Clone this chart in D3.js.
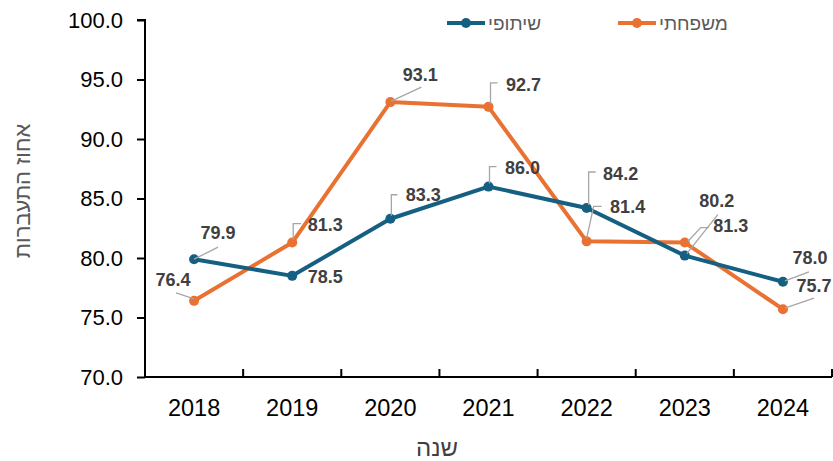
<!DOCTYPE html>
<html>
<head>
<meta charset="utf-8">
<script src="https://cdn.jsdelivr.net/npm/d3@7"></script>
<style>
  body { margin: 0; background: #fff; }
  svg { display: block; font-family: "Liberation Sans", Arial, sans-serif; }
</style>
</head>
<body>
<div id="chart"></div>
<script>
// data
var years = ['2018', '2019', '2020', '2021', '2022', '2023', '2024'];
var shared = [79.9, 78.5, 83.3, 86.0, 84.2, 80.2, 78.0];   // שיתופי
var family = [76.4, 81.3, 93.1, 92.7, 81.4, 81.3, 75.7];   // משפחתי
var yTicks = [70, 75, 80, 85, 90, 95, 100];

// label placement (offset of label centre and leader path from the point)
var sharedLabels = [
    {dx: 24, dy: -26, lead: [[0, 0], [24, -12]]},
    {dx: 33, dy: 1, lead: null},
    {dx: 33, dy: -24, lead: [[1, -3], [1, -24], [7, -24]]},
    {dx: 34, dy: -19, lead: [[1, -3], [1, -20], [8, -20]]},
    {dx: 34, dy: -34, lead: [[2, -3], [2, -36], [9, -36]]},
    {dx: 32, dy: -55, lead: [[2, -2], [33, -41]]},
    {dx: 27, dy: -24, lead: [[2, -1], [26, -10]]}
];
var familyLabels = [
    {dx: -21, dy: -21, lead: [[0, -2], [-18, -8]]},
    {dx: 33, dy: -18, lead: [[1, -3], [1, -19], [9, -19]]},
    {dx: 30, dy: -27, lead: [[1, -1], [31, -15]]},
    {dx: 35, dy: -22, lead: [[2, -3], [2, -24], [9, -24]]},
    {dx: 41, dy: -34, lead: [[0, -3], [7, -35], [15, -35]]},
    {dx: 46, dy: -17, lead: [[3, -1], [16, -15], [24, -15]]},
    {dx: 31, dy: -23, lead: [[2, -1], [31, -11]]}
];

var series = [
    {name: 'משפחתי', values: family, labels: familyLabels, color: '#E97132', legendX: 618},
    {name: 'שיתופי', values: shared, labels: sharedLabels, color: '#156082', legendX: 447}
];

var sizes = {width: 833, height: 461};
var margin = {top: 20, right: 1, bottom: 84, left: 145};

var svg = d3.select('#chart')
    .append('svg')
    .attr('width', sizes.width)
    .attr('height', sizes.height);

var x = d3.scaleBand()
    .domain(years)
    .range([margin.left, sizes.width - margin.right]);
var y = d3.scaleLinear()
    .domain([70, 100])
    .range([sizes.height - margin.bottom, margin.top]);
var cx = function(i){ return x(years[i]) + x.bandwidth() / 2; };

// y axis
var yAxis = svg.append('g')
    .attr('transform', 'translate(' + margin.left + ',0)')
    .call(d3.axisLeft(y).tickValues(yTicks).tickSize(8).tickPadding(14)
        .tickFormat(d3.format('.1f')));
yAxis.select('.domain').attr('stroke', '#000').attr('stroke-width', 2)
    .attr('d', 'M-8,' + y(100) + 'H0V' + y(70));
yAxis.selectAll('.tick line').attr('stroke', '#000').attr('stroke-width', 2);
yAxis.selectAll('.tick text')
    .style('font-size', '22px')
    .attr('fill', '#000');

// x axis: labels centred, ticks on band boundaries pointing up
var xAxis = svg.append('g')
    .attr('transform', 'translate(0,' + y(70) + ')')
    .call(d3.axisBottom(x).tickSize(0).tickPadding(22));
xAxis.select('.domain').remove();
xAxis.selectAll('.tick text')
    .style('font-size', '23.5px')
    .attr('fill', '#000');
xAxis.append('line')
    .attr('x1', x.range()[0]).attr('x2', x.range()[1])
    .attr('stroke', '#000').attr('stroke-width', 2);
xAxis.selectAll('.bound')
    .data(years.map(function(d){ return x(d); }).concat([x.range()[1]]))
    .enter()
    .append('line')
    .attr('class', 'bound')
    .attr('x1', function(d){ return d; })
    .attr('x2', function(d){ return d; })
    .attr('y1', 0).attr('y2', -8)
    .attr('stroke', '#000').attr('stroke-width', 2);

// axis titles
svg.append('text')
    .attr('x', 437).attr('y', 447)
    .attr('text-anchor', 'middle')
    .attr('dominant-baseline', 'central')
    .style('font-size', '24px')
    .attr('fill', '#404040')
    .text('שנה');
svg.append('text')
    .attr('transform', 'translate(22,191) rotate(-90)')
    .attr('text-anchor', 'middle')
    .attr('dominant-baseline', 'central')
    .style('font-size', '22px')
    .attr('fill', '#595959')
    .text('אחוז התעברות');

// lines
var line = d3.line()
    .x(function(d, i){ return cx(i); })
    .y(function(d){ return y(d); });

series.forEach(function(s){
    var g = svg.append('g');
    g.append('path')
        .datum(s.values)
        .attr('d', line)
        .attr('fill', 'none')
        .attr('stroke', s.color)
        .attr('stroke-width', 4)
        .attr('stroke-linejoin', 'round');
    g.selectAll('circle')
        .data(s.values)
        .enter()
        .append('circle')
        .attr('cx', function(d, i){ return cx(i); })
        .attr('cy', function(d){ return y(d); })
        .attr('r', 5)
        .attr('fill', s.color);
});

// data labels with leader lines
series.forEach(function(s){
    var g = svg.append('g');
    s.values.forEach(function(v, i){
        var px = cx(i), py = y(v), l = s.labels[i];
        if (l.lead){
            g.append('path')
                .attr('d', d3.line()(l.lead.map(function(p){ return [px + p[0], py + p[1]]; })))
                .attr('fill', 'none')
                .attr('stroke', '#a6a6a6')
                .attr('stroke-width', 1.3);
        }
        g.append('text')
            .attr('x', px + l.dx)
            .attr('y', py + l.dy)
            .attr('text-anchor', 'middle')
            .attr('dominant-baseline', 'central')
            .style('font-size', '18px')
            .style('font-weight', 'bold')
            .attr('fill', '#404040')
            .text(d3.format('.1f')(v));
    });
});

// legend
var legend = svg.append('g').attr('transform', 'translate(0,23)');
series.forEach(function(s){
    legend.append('line')
        .attr('x1', s.legendX).attr('x2', s.legendX + 38)
        .attr('stroke', s.color).attr('stroke-width', 4);
    legend.append('circle')
        .attr('cx', s.legendX + 19).attr('r', 5)
        .attr('fill', s.color);
    legend.append('text')
        .attr('x', s.legendX + 41)
        .attr('text-anchor', 'start')
        .attr('dominant-baseline', 'central')
        .style('font-size', '19px')
        .attr('fill', '#595959')
        .text(s.name);
});
</script>
</body>
</html>
